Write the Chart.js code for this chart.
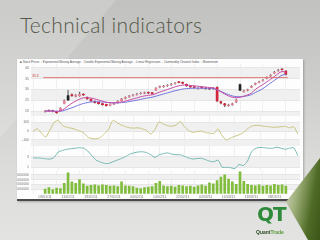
<!DOCTYPE html>
<html>
<head>
<meta charset="utf-8">
<script src="https://cdn.jsdelivr.net/npm/chart.js@4.4.1/dist/chart.umd.min.js"></script>
<style>
  html, body { margin: 0; padding: 0; width: 320px; height: 240px; overflow: hidden; }
  body { position: relative; background: linear-gradient(180deg, #c1c1bf 0%, #cdcdcb 35%, #dcdcda 70%, #e3e3e1 100%); font-family: 'Liberation Sans', sans-serif; }
  .sheen { position: absolute; left: 0; top: 0; width: 320px; height: 240px;
    background: linear-gradient(130deg, rgba(255,255,255,0.16) 0%, rgba(255,255,255,0.16) 22%, rgba(255,255,255,0) 22.5%); }
  h1 { position: absolute; left: 20px; top: 12px; margin: 0; font: 300 21px Lato, sans-serif; letter-spacing: 0.3px; color: #545849; }
  #panel { position: absolute; left: 17px; top: 59px; width: 286px; height: 142px; background: #fdfdfd; box-shadow: 1px 1px 2px rgba(0,0,0,0.25); }
  #legend { position: absolute; left: 3px; top: 1px; font-size: 3px; line-height: 4px; color: #555; white-space: nowrap; }
  #panel canvas { position: absolute; left: 0; }
  #bar { position: absolute; left: 0; bottom: 0; width: 286px; height: 2px; background: #4a4a4a; }
  .wedge { position: absolute; left: 286px; top: 158px; width: 34px; height: 82px;
    clip-path: polygon(0 44px, 34px 0, 34px 82px, 22px 82px);
    background: linear-gradient(100deg, #d9dccf 0%, #9fb07a 35%, #4f6b26 70%, #3a5517 100%); }
  .logo { position: absolute; left: 256px; top: 205px; width: 32px; height: 30px; }
  .logo .qt { position: absolute; left: 1px; top: -3px; font: bold 20px 'DejaVu Sans', sans-serif; color: #2f8a3c; letter-spacing: -1px; }
  .logo .name { position: absolute; left: 0; top: 24px; font: bold 5px 'Liberation Sans', sans-serif; color: #2d4a22; }
  .logo .name span { color: #5a9a3a; }
</style>
</head>
<body>
<div class="sheen"></div>
<h1>Technical indicators</h1>
<div id="panel">
  <div id="legend">■ Stock Prices &nbsp;- Exponential Moving Average &nbsp;- Double Exponential Moving Average &nbsp;- Linear Regression &nbsp;- Commodity Channel Index &nbsp;- Momentum</div>
  <canvas id="priceChart" width="286" height="52" style="top:5px"></canvas>
  <canvas id="cciChart" width="286" height="30" style="top:57px"></canvas>
  <canvas id="momChart" width="286" height="25" style="top:87px"></canvas>
  <canvas id="volChart" width="286" height="29" style="top:112px"></canvas>
  <div id="bar"></div>
</div>
<div class="wedge"></div>
<div class="logo"><div class="qt">QT</div><div class="name">Quant<span>Trade</span></div></div>

<script>
// price data (one value per trading period)
let openPrices = [19.7, 20.4, 20.2, 19.8, 20.2, 23.5, 25.0, 27.6, 26.8, 27.0, 27.9, 26.4, 25.4, 24.5, 24.1, 23.5,
  23.1, 22.6, 23.1, 23.8, 24.8, 25.8, 26.5, 27.1, 27.6, 28.0, 28.2, 28.7, 28.5, 29.6, 30.9, 31.2,
  31.6, 32.1, 32.6, 33.6, 33.3, 32.4, 31.5, 31.3, 30.3, 31.0, 30.7, 30.5, 30.2, 31.0, 24.4, 23.4,
  22.5, 22.8, 24.1, 29.6, 28.9, 29.5, 31.0, 32.3, 33.2, 34.0, 35.1, 36.2, 37.6, 38.6, 39.5, 38.6];
let closePrices = [20.0, 20.1, 19.9, 19.2, 21.3, 24.8, 27.2, 27.0, 27.3, 27.8, 27.4, 25.6, 24.6, 23.9, 23.4, 22.9,
  22.5, 23.2, 23.6, 24.5, 25.6, 26.3, 27.0, 27.4, 27.9, 28.3, 28.5, 28.3, 28.0, 30.6, 31.4, 31.6,
  32.0, 32.5, 33.0, 33.2, 32.8, 31.6, 31.1, 30.8, 30.6, 30.6, 30.3, 30.1, 30.6, 24.6, 23.6, 22.7,
  22.9, 23.4, 25.2, 32.3, 29.4, 29.9, 31.5, 32.8, 33.6, 34.4, 35.6, 36.6, 38.1, 39.0, 39.1, 37.0];
let highPrices = [20.3, 20.6, 20.4, 20.0, 21.6, 25.2, 29.6, 28.0, 27.7, 28.8, 28.1, 26.6, 25.6, 24.7, 24.2, 23.7,
  23.2, 23.5, 23.9, 24.8, 25.9, 26.6, 27.3, 27.7, 28.2, 28.6, 28.8, 28.9, 28.7, 30.9, 31.7, 31.9,
  32.3, 32.8, 33.3, 33.8, 33.5, 32.6, 31.7, 31.5, 30.9, 31.2, 30.9, 30.7, 30.9, 31.2, 24.6, 23.6,
  23.2, 23.7, 25.5, 32.6, 29.7, 30.2, 31.8, 33.1, 33.9, 34.7, 35.9, 36.9, 38.4, 39.3, 39.8, 38.8];
let lowPrices = [19.5, 19.9, 19.6, 18.9, 20.0, 23.3, 24.8, 26.8, 26.6, 26.8, 27.2, 25.4, 24.4, 23.7, 23.2, 22.7,
  22.3, 22.4, 22.9, 23.6, 24.6, 25.6, 26.3, 26.9, 27.4, 27.8, 28.0, 28.1, 27.8, 29.4, 30.7, 31.0,
  31.4, 31.9, 32.4, 33.0, 32.6, 31.4, 30.9, 30.6, 30.1, 30.4, 30.1, 29.9, 30.0, 24.3, 23.3, 22.0,
  22.2, 22.6, 23.9, 29.4, 28.7, 29.3, 30.8, 32.1, 33.0, 33.8, 34.9, 36.0, 37.4, 38.4, 38.9, 36.6];
let emaValues = [20.0, 20.0, 20.0, 19.8, 20.1, 21.0, 22.4, 23.6, 24.6, 25.5, 26.1, 26.2, 26.0, 25.6, 25.1, 24.6,
  24.1, 23.9, 23.8, 23.9, 24.2, 24.6, 25.1, 25.6, 26.1, 26.6, 27.0, 27.3, 27.5, 28.1, 28.8, 29.4,
  30.0, 30.6, 31.2, 31.7, 32.0, 32.0, 31.9, 31.7, 31.5, 31.3, 31.1, 30.9, 30.8, 29.9, 28.9, 27.9,
  27.0, 26.4, 26.2, 26.4, 26.9, 27.5, 28.3, 30.0, 31.2, 32.3, 33.5, 34.7, 36.0, 37.4, 38.3, 38.0];
let demaValues = [20.0, 20.0, 20.0, 19.9, 19.9, 20.3, 20.9, 21.5, 22.2, 22.9, 23.5, 23.9, 24.2, 24.3, 24.3, 24.2,
  24.0, 23.9, 23.8, 23.8, 23.9, 24.1, 24.4, 24.7, 25.0, 25.4, 25.8, 26.1, 26.4, 26.9, 27.4, 27.9,
  28.4, 28.9, 29.4, 29.8, 30.2, 30.4, 30.5, 30.6, 30.6, 30.6, 30.5, 30.5, 30.4, 29.8, 29.1, 28.3,
  27.6, 27.0, 26.7, 26.6, 26.8, 27.1, 27.6, 28.6, 29.4, 30.4, 31.7, 33.0, 34.2, 35.5, 36.6, 37.0];
let resistanceLevel = 35.5;

// indicators
let cciValues = [0, 25, -25, -70, 12, 100, 125, 62, 44, 34, 19, 0, -19, -70, -87, -91,
  -75, -31, 25, 125, 96, 69, 50, 37, 34, 37, 25, 6, -37, 19, 106, 81,
  62, 56, 69, 112, 50, 6, -16, -6, 0, -19, -25, -29, 25, -56, -106, -81,
  -62, -44, -19, 25, 56, 66, 62, 54, 50, 44, 44, 50, 54, 37, 50, -37];
let momentumValues = [2.75, 2.75, 2.69, 2.6, 2.54, 2.85, 3.9, 4.2, 4.42, 4.52, 4.62, 4.73, 4.62, 4.1, 3.17, 2.33,
  1.98, 1.71, 1.71, 2.02, 2.33, 2.65, 3.02, 3.48, 3.73, 3.9, 3.94, 3.79, 3.38, 2.85, 3.38, 3.58,
  3.73, 3.48, 3.38, 3.38, 3.06, 2.75, 2.54, 2.65, 2.69, 2.44, 2.13, 2.02, 2.33, 0.98, 0.94, 0.88,
  0.73, 1.5, 1.29, 2.13, 4.0, 4.62, 4.77, 4.73, 4.62, 4.62, 4.83, 4.62, 4.42, 4.62, 4.73, 3.2];
let volumeValues = [1.0, 1.3, 0.9, 1.2, 1.1, 2.2, 4.4, 2.5, 2.2, 3.0, 2.1, 1.6, 1.8, 1.9, 1.7, 1.9,
  1.8, 1.6, 1.7, 1.5, 2.5, 1.7, 1.6, 1.5, 1.2, 1.1, 1.3, 1.4, 1.5, 2.2, 2.6, 1.7,
  1.5, 1.6, 1.4, 1.8, 1.7, 1.5, 1.6, 1.4, 1.7, 1.9, 1.6, 2.3, 2.1, 2.8, 3.5, 4.0,
  3.1, 2.5, 2.0, 4.6, 2.6, 2.0, 1.8, 1.7, 1.9, 1.6, 1.8, 1.7, 2.0, 1.8, 1.9, 1.6].map(v => v * 1000000);

// tick labels
let priceTicks = [20, 25, 30, 35, 40];
let cciTicks = [-100, 0, 100];
let momentumTicks = [1, 2, 3, 4];
let volumeTicks = [1000000, 2000000, 3000000, 4000000];
let dateLabels = ['03/01/11', '11/01/11', '19/01/11', '27/01/11', '04/02/11', '14/02/11', '22/02/11', '02/03/11', '10/03/11', '18/03/11', '28/03/11'];
let labelEvery = 6;

const tickFont = { size: 3.5, family: 'Liberation Sans' };
const gridColor = '#e6e6e6';

// alternating grey bands between y ticks
const bandsPlugin = {
  id: 'bands',
  beforeDraw(chart) {
    const { ctx, chartArea: a, scales: { y } } = chart;
    ctx.save();
    ctx.fillStyle = '#f0f0f0';
    const ticks = y.ticks.map(t => y.getPixelForValue(t.value)).sort((p, q) => p - q);
    let edges = [a.top, ...ticks, a.bottom];
    for (let k = 1; k < edges.length - 1; k += 2) {
      ctx.fillRect(a.left, edges[k], a.right - a.left, edges[k + 1] - edges[k]);
    }
    ctx.restore();
  }
};

function xScale(showLabels) {
  return {
    type: 'linear', min: -0.5, max: closePrices.length - 0.5,
    grid: { color: '#efefef', drawTicks: false },
    border: { display: false },
    afterBuildTicks: s => { s.ticks = dateLabels.map((d, k) => ({ value: k * labelEvery })); },
    afterFit: s => { if (!showLabels) s.height = 0; },
    ticks: {
      display: showLabels, autoSkip: false, maxRotation: 0, padding: 1, font: tickFont, color: '#777',
      callback: v => dateLabels[v / labelEvery]
    }
  };
}

function yScale(min, max, tickValues, fmt) {
  return {
    min: min, max: max,
    grid: { color: gridColor, drawTicks: false },
    border: { display: false },
    afterBuildTicks: s => { s.ticks = tickValues.map(v => ({ value: v })); },
    afterFit: s => { s.width = 14; s.paddingTop = 0; s.paddingBottom = 0; },
    ticks: { font: tickFont, color: '#777', padding: 2, callback: fmt || (v => v) }
  };
}

function baseOptions(scales) {
  return {
    responsive: false, animation: false,
    layout: { padding: { left: 0, right: 3, top: 0, bottom: 0 } },
    plugins: { legend: { display: false }, tooltip: { enabled: false } },
    scales: scales
  };
}

let n = closePrices.length;

// candle body colour: big rises dark, small rises pink, falls red
function candleColor(i) {
  let diff = closePrices[i] - openPrices[i];
  if (diff > 2) return '#222222';
  return diff >= 0 ? '#e9889c' : '#d3263b';
}

// price panel: candles + moving averages
new Chart(document.getElementById('priceChart'), {
  type: 'bar',
  data: {
    datasets: [
      {
        type: 'line', data: [{ x: -0.5, y: resistanceLevel }, { x: n - 0.5, y: resistanceLevel }],
        borderColor: '#e06060', borderWidth: 0.8, pointRadius: 0, order: 0
      },
      {
        type: 'line', data: emaValues.map((v, i) => ({ x: i, y: v })),
        borderColor: '#c94aa6', borderWidth: 1, pointRadius: 0, tension: 0.4, order: 1
      },
      {
        type: 'line', data: demaValues.map((v, i) => ({ x: i, y: v })),
        borderColor: '#7274dc', borderWidth: 1, pointRadius: 0, tension: 0.4, order: 2
      },
      {
        data: closePrices.map((c, i) => ({ x: i, y: [openPrices[i], c] })),
        backgroundColor: ctx => candleColor(ctx.dataIndex),
        borderColor: ctx => candleColor(ctx.dataIndex),
        borderWidth: 0.4, borderSkipped: false, barThickness: 2.4, grouped: false, order: 3
      },
      {
        data: highPrices.map((h, i) => ({ x: i, y: [lowPrices[i], h] })),
        backgroundColor: '#6a6a6a', barThickness: 0.6, grouped: false, order: 4
      }
    ]
  },
  options: baseOptions({ x: xScale(false), y: yScale(17.7, 41.8, priceTicks) }),
  plugins: [bandsPlugin, {
    id: 'resLabel',
    afterDatasetsDraw(chart) {
      const { ctx, chartArea: a, scales: { y } } = chart;
      ctx.save();
      ctx.font = '3.5px Liberation Sans';
      ctx.fillStyle = '#d04040';
      ctx.fillText(resistanceLevel.toFixed(1), a.left + 1, y.getPixelForValue(resistanceLevel) - 0.8);
      ctx.restore();
    }
  }]
});

// CCI panel
new Chart(document.getElementById('cciChart'), {
  type: 'line',
  data: {
    datasets: [{
      data: cciValues.map((v, i) => ({ x: i, y: v })),
      borderColor: '#c9c582', borderWidth: 1, pointRadius: 0, tension: 0.2
    }]
  },
  options: baseOptions({ x: xScale(false), y: yScale(-175, 175, cciTicks) }),
  plugins: [bandsPlugin]
});

// momentum panel
new Chart(document.getElementById('momChart'), {
  type: 'line',
  data: {
    datasets: [{
      data: momentumValues.map((v, i) => ({ x: i, y: v })),
      borderColor: '#72b9b2', borderWidth: 1, pointRadius: 0, tension: 0.2
    }]
  },
  options: baseOptions({ x: xScale(false), y: yScale(0.25, 5.05, momentumTicks) }),
  plugins: [bandsPlugin]
});

// volume panel
new Chart(document.getElementById('volChart'), {
  type: 'bar',
  data: {
    datasets: [{
      data: volumeValues.map((v, i) => ({ x: i, y: v })),
      backgroundColor: '#80bd3c', barThickness: 2
    }]
  },
  options: baseOptions({ x: xScale(true), y: yScale(0, 4800000, volumeTicks) }),
  plugins: [bandsPlugin]
});
</script>
</body>
</html>
